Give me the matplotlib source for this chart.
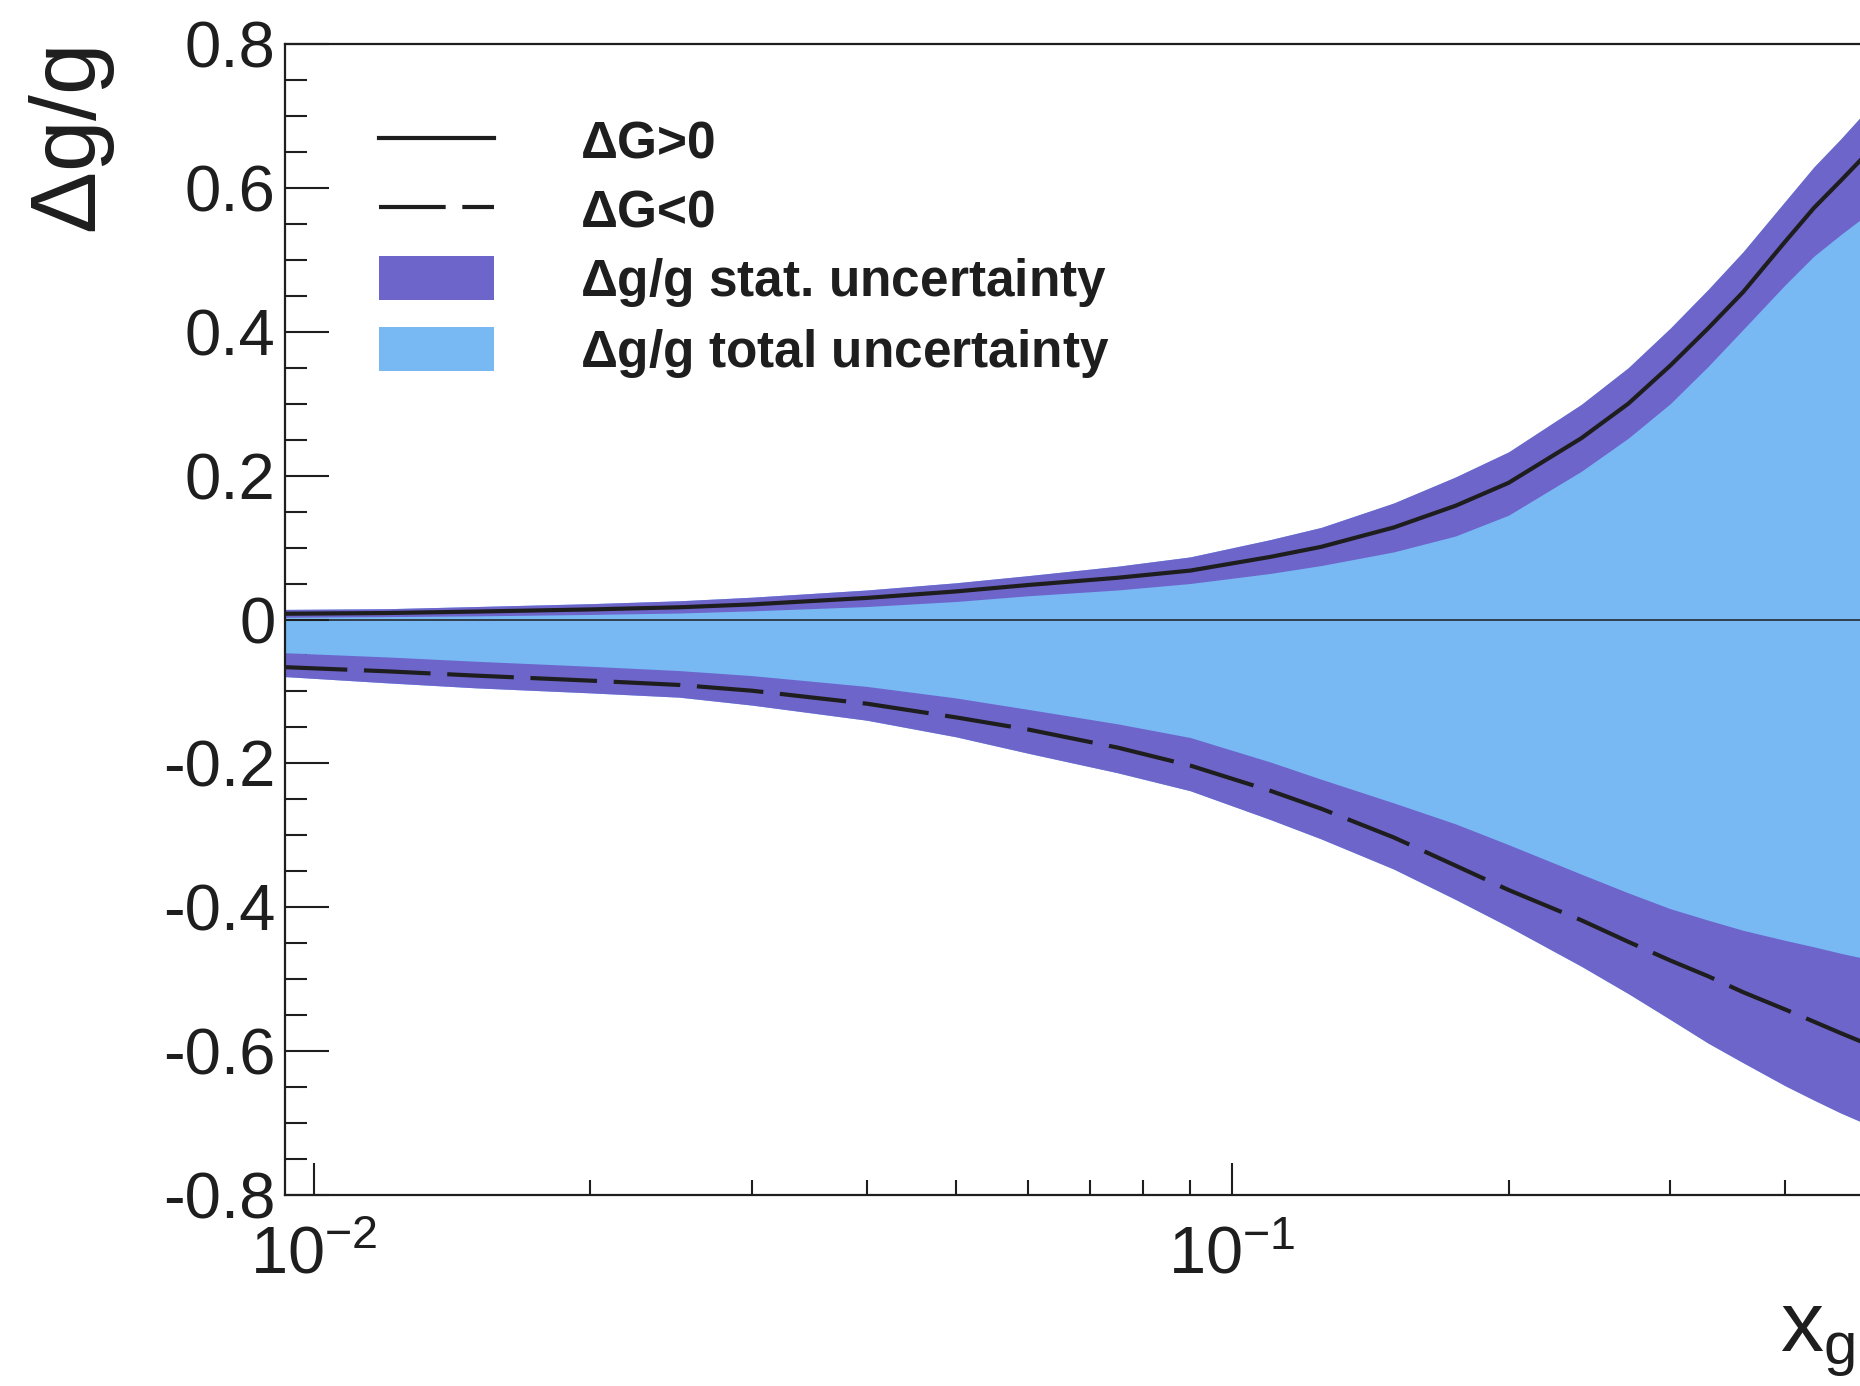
import numpy as np
import matplotlib
matplotlib.use("Agg")
import matplotlib.pyplot as plt
from matplotlib.lines import Line2D
from matplotlib.patches import Patch
from matplotlib.ticker import LogLocator, NullFormatter, FixedLocator, MultipleLocator

plt.rcParams['font.family'] = ['Liberation Sans', 'DejaVu Sans']
plt.rcParams['mathtext.fontset'] = 'custom'
plt.rcParams['mathtext.rm'] = 'Liberation Sans'
plt.rcParams['mathtext.it'] = 'Liberation Sans:italic'
plt.rcParams['mathtext.bf'] = 'Liberation Sans:bold'
plt.rcParams['axes.unicode_minus'] = False

# x_g values
x_g = [0.0092, 0.012, 0.015, 0.02, 0.025, 0.03, 0.04, 0.05, 0.06, 0.075, 0.09, 0.11,
       0.125, 0.15, 0.175, 0.2, 0.24, 0.27, 0.3, 0.33, 0.36, 0.4, 0.43, 0.46, 0.5]

# Delta G > 0 curve and its stat. band
pos_curve = [0.008, 0.009, 0.011, 0.014, 0.017, 0.021, 0.030, 0.039, 0.048, 0.058, 0.068, 0.087,
             0.101, 0.128, 0.158, 0.190, 0.252, 0.300, 0.353, 0.405, 0.455, 0.525, 0.572, 0.610, 0.658]
pos_hi = [0.014, 0.015, 0.018, 0.022, 0.026, 0.031, 0.041, 0.051, 0.061, 0.074, 0.087, 0.111,
          0.128, 0.162, 0.198, 0.233, 0.299, 0.350, 0.405, 0.459, 0.511, 0.581, 0.629, 0.668, 0.719]
pos_lo = [0.003, 0.004, 0.005, 0.007, 0.009, 0.012, 0.018, 0.025, 0.033, 0.041, 0.050, 0.064,
          0.075, 0.094, 0.116, 0.145, 0.206, 0.252, 0.300, 0.352, 0.403, 0.465, 0.505, 0.535, 0.570]

# Delta G < 0 curve and its stat. band
neg_curve = [-0.066, -0.072, -0.078, -0.085, -0.091, -0.099, -0.117, -0.136, -0.153, -0.178, -0.203, -0.238,
             -0.263, -0.303, -0.342, -0.376, -0.418, -0.448, -0.474, -0.496, -0.518, -0.542, -0.559, -0.575, -0.594]
neg_hi = [-0.046, -0.052, -0.058, -0.065, -0.071, -0.078, -0.093, -0.109, -0.125, -0.145, -0.164, -0.198,
          -0.222, -0.255, -0.284, -0.313, -0.354, -0.380, -0.402, -0.418, -0.432, -0.446, -0.455, -0.464, -0.474]
neg_lo = [-0.079, -0.088, -0.095, -0.102, -0.108, -0.119, -0.140, -0.163, -0.186, -0.213, -0.238, -0.278,
          -0.305, -0.347, -0.389, -0.427, -0.482, -0.520, -0.556, -0.589, -0.616, -0.648, -0.668, -0.686, -0.706]

y_ticks = [-0.8, -0.6, -0.4, -0.2, 0.0, 0.2, 0.4, 0.6, 0.8]
y_tick_labels = ['-0.8', '-0.6', '-0.4', '-0.2', '0', '0.2', '0.4', '0.6', '0.8']

legend_labels = [r'$\mathbf{\Delta}$G>0', r'$\mathbf{\Delta}$G<0',
                 r'$\mathbf{\Delta}$g/g stat. uncertainty', r'$\mathbf{\Delta}$g/g total uncertainty']

stat_color = '#6e65cb'
total_color = '#78b9f4'
ink = '#1e1e1e'

W, H = 1860, 1386
fig = plt.figure(figsize=(W / 100, H / 100), dpi=100)
# axes runs past the right edge of the picture, as in the cropped scan
ax = fig.add_axes([285 / W, 1 - 1195 / H, 1589 / W, 1151 / H])

x = np.array(x_g)
ax.fill_between(x, neg_lo, pos_hi, color=total_color, lw=0, zorder=1)
ax.fill_between(x, pos_lo, pos_hi, color=stat_color, lw=0, zorder=2)
ax.fill_between(x, neg_lo, neg_hi, color=stat_color, lw=0, zorder=2)
ax.axhline(0, color=ink, lw=1.1, zorder=3)
ax.plot(x, pos_curve, color=ink, lw=3, zorder=4)
ax.plot(x, neg_curve, color=ink, lw=3, dashes=(16, 4), zorder=4)

ax.set_xscale('log')
ax.set_xlim(0.0093, 0.5)
ax.set_ylim(-0.8, 0.8)

ax.xaxis.set_major_locator(LogLocator(base=10))
ax.xaxis.set_minor_locator(LogLocator(base=10, subs=np.arange(2, 10)))
ax.xaxis.set_minor_formatter(NullFormatter())
ax.yaxis.set_major_locator(FixedLocator(y_ticks))
ax.set_yticklabels(y_tick_labels)
ax.yaxis.set_minor_locator(MultipleLocator(0.05))

ax.tick_params(axis='y', which='major', direction='in', length=32, width=1.5,
               labelsize=47, pad=7, colors=ink)
ax.tick_params(axis='y', which='minor', direction='in', length=16, width=1.5, colors=ink)
ax.tick_params(axis='x', which='major', direction='in', length=23, width=1.5,
               labelsize=48, pad=22, colors=ink)
ax.tick_params(axis='x', which='minor', direction='in', length=11, width=1.5, colors=ink)

for side in ['left', 'bottom', 'top']:
    ax.spines[side].set_linewidth(1.6)
    ax.spines[side].set_color(ink)
ax.spines['right'].set_visible(False)

fig.text(72 / W, 1 - 47 / H, r'$\Delta$g/g', rotation=90, ha='center', va='top',
         fontsize=67, color=ink)
fig.text(1780 / W, 1 - 1350 / H, r'x$_{\mathregular{g}}$', ha='left', va='baseline',
         fontsize=62, color=ink)

handles = [Line2D([], [], color=ink, lw=3),
           Line2D([], [], color=ink, lw=3, dashes=(16, 4)),
           Patch(facecolor=stat_color, edgecolor='none'),
           Patch(facecolor=total_color, edgecolor='none')]
leg = fig.legend(handles, legend_labels, loc='upper left',
                 bbox_to_anchor=(379 / W, 1 - 118 / H), frameon=False,
                 prop={'size': 37, 'weight': 'bold'}, handlelength=2.24,
                 handleheight=0.95, handletextpad=1.67, labelspacing=0.35,
                 borderpad=0, borderaxespad=0)
for t in leg.get_texts():
    t.set_color(ink)

fig.savefig('out.png', dpi=100)
